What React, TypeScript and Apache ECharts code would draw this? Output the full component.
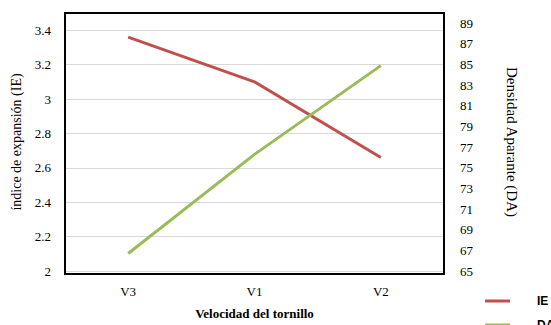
import React, { useEffect, useRef } from "react";
import * as echarts from "echarts";

const categories = ["V3", "V1", "V2"];
const ieValues = [3.36, 3.1, 2.66];
const daValues = [66.7, 76.3, 84.9];

export default function App() {
  const ref = useRef<HTMLDivElement>(null);
  useEffect(() => {
    const chart = echarts.init(ref.current!, null, { renderer: "svg" });
    const serif = "'Liberation Serif', 'Times New Roman', serif";
    const legendText = {
      fontFamily: "'Liberation Sans', Arial, sans-serif",
      fontWeight: "bold",
      fontSize: 12,
      color: "#000",
      padding: [0, 0, 0, 22],
    };
    chart.setOption({
      animation: false,
      grid: {
        left: 65,
        right: 107,
        top: 13,
        bottom: 51,
        show: false,
        containLabel: false,
      },
      graphic: [
        {
          type: "rect",
          z: 100,
          shape: { x: 65, y: 13, width: 379, height: 261 },
          style: { fill: "none", stroke: "#000", lineWidth: 2 },
        },
      ],
      legend: [
        {
          orient: "vertical",
          left: 480,
          top: 290,
          itemWidth: 25,
          itemHeight: 3,
          icon: "rect",
          data: ["IE"],
          textStyle: legendText,
        },
        {
          orient: "vertical",
          left: 480,
          top: 314,
          itemWidth: 25,
          itemHeight: 3,
          icon: "rect",
          data: ["DA"],
          textStyle: legendText,
        },
      ],
      xAxis: {
        type: "category",
        data: categories,
        boundaryGap: true,
        axisLine: { show: false },
        axisTick: { show: false },
        axisLabel: { fontFamily: serif, fontSize: 13, color: "#000", margin: 14 },
        name: "Velocidad del tornillo",
        nameLocation: "middle",
        nameGap: 36,
        nameTextStyle: { fontFamily: serif, fontSize: 13, fontWeight: "bold", color: "#000" },
      },
      yAxis: [
        {
          type: "value",
          min: 2,
          max: 3.5,
          interval: 0.2,
          position: "left",
          axisLine: { show: false },
          axisTick: { show: false },
          axisLabel: {
            fontFamily: serif,
            fontSize: 13,
            color: "#000",
            margin: 14,
            showMaxLabel: false,
          },
          splitLine: { show: true, lineStyle: { color: "#d9d9d9", width: 1 } },
          name: "índice de expansión (IE)",
          nameLocation: "middle",
          nameGap: 42,
          nameRotate: 90,
          nameTextStyle: { fontFamily: serif, fontSize: 14, color: "#000" },
        },
        {
          type: "value",
          min: 65,
          max: 90,
          interval: 2,
          position: "right",
          axisLine: { show: false },
          axisTick: { show: false },
          axisLabel: {
            fontFamily: serif,
            fontSize: 13,
            color: "#000",
            margin: 16,
            showMaxLabel: false,
          },
          splitLine: { show: false },
          name: "Densidad Aparante (DA)",
          nameLocation: "middle",
          nameGap: 60,
          nameRotate: -90,
          nameTextStyle: { fontFamily: serif, fontSize: 15, color: "#000" },
        },
      ],
      series: [
        {
          name: "IE",
          type: "line",
          yAxisIndex: 0,
          data: ieValues,
          symbol: "none",
          lineStyle: { color: "#C0504D", width: 3 },
          itemStyle: { color: "#C0504D" },
        },
        {
          name: "DA",
          type: "line",
          yAxisIndex: 1,
          data: daValues,
          symbol: "none",
          lineStyle: { color: "#9BBB59", width: 3 },
          itemStyle: { color: "#9BBB59" },
        },
      ],
    });
    return () => chart.dispose();
  }, []);
  return <div ref={ref} style={{ width: 551, height: 325, position: "absolute", left: 0, top: 0 }} />;
}
